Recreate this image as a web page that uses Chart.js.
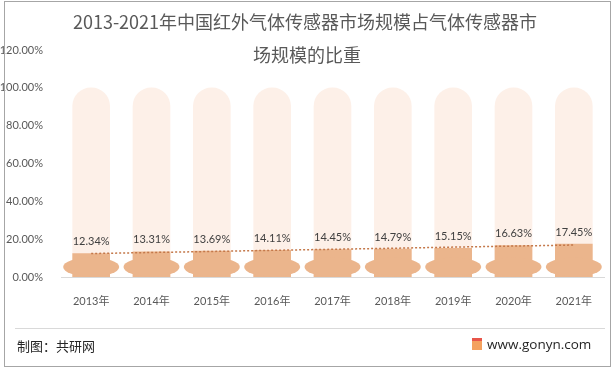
<!DOCTYPE html>
<html>
<head>
<meta charset="utf-8">
<script src="https://cdn.jsdelivr.net/npm/chart.js@4/dist/chart.umd.min.js"></script>
<style>
html,body{margin:0;padding:0;background:#fff;}
#wrap{position:relative;width:615px;height:370px;}
</style>
</head>
<body>
<div id="wrap"><canvas id="c" width="615" height="370"></canvas></div>
<script>
const categories = ['2013年','2014年','2015年','2016年','2017年','2018年','2019年','2020年','2021年'];
const shareValues = [12.34, 13.31, 13.69, 14.11, 14.45, 14.79, 15.15, 16.63, 17.45];
const backgroundValues = [100, 100, 100, 100, 100, 100, 100, 100, 100];
const trendValues = [12.4, 12.95, 13.5, 14.1, 14.65, 15.2, 15.8, 16.35, 16.9];
const yTicks = [0, 20, 40, 60, 80, 100, 120];
const titleLines = ['2013-2021年中国红外气体传感器市场规模占气体传感器市', '场规模的比重'];
const sourceText = '制图：共研网';
const siteText = 'www.gonyn.com';

const FONT = 'Lato, "Noto Sans CJK SC", sans-serif';
const CJK = '"Noto Sans CJK SC", "Noto Sans", sans-serif';
const TAN = '#ebb58c';

const decorPlugin = {
  id: 'decor',
  beforeDraw(chart) {
    const ctx = chart.ctx;
    ctx.save();
    ctx.fillStyle = '#fff';
    ctx.fillRect(0, 0, chart.width, chart.height);
    ctx.restore();
  },
  afterDatasetsDraw(chart) {
    const ctx = chart.ctx;
    const yScale = chart.scales.y;
    const base = yScale.getPixelForValue(0);
    const meta = chart.getDatasetMeta(1);
    ctx.save();
    meta.data.forEach((el) => {
      ctx.beginPath();
      ctx.ellipse(el.x, base - 10, 28, 9.5, 0, 0, Math.PI * 2);
      ctx.fillStyle = TAN;
      ctx.fill();
    });
    ctx.fillStyle = '#404040';
    ctx.font = '11px ' + FONT;
    ctx.textAlign = 'center';
    ctx.textBaseline = 'middle';
    meta.data.forEach((el, i) => {
      ctx.fillText(shareValues[i].toFixed(2) + '%', el.x, el.y - 12);
    });
    ctx.restore();
  },
  afterDraw(chart) {
    const ctx = chart.ctx;
    ctx.save();
    ctx.fillStyle = '#595959';
    ctx.font = '18px ' + CJK;
    ctx.textAlign = 'center';
    ctx.textBaseline = 'middle';
    ctx.fillText(titleLines[0], 305, 22);
    ctx.fillText(titleLines[1], 307, 55);
    ctx.strokeStyle = '#d9d9d9';
    ctx.lineWidth = 1;
    ctx.beginPath();
    ctx.moveTo(15, 328.5);
    ctx.lineTo(605, 328.5);
    ctx.stroke();
    ctx.fillStyle = '#262626';
    ctx.font = '13px ' + CJK;
    ctx.textAlign = 'left';
    ctx.fillText(sourceText, 17, 346);
    ctx.font = '13.5px "Open Sans", sans-serif';
    ctx.textAlign = 'left';
    ctx.fillText(siteText, 487, 345);
    ctx.fillStyle = '#f4a15e';
    ctx.fillRect(472, 341, 10, 9);
    ctx.fillStyle = '#e8554a';
    ctx.fillRect(472, 338, 10, 3);
    ctx.strokeStyle = '#a6a6a6';
    ctx.strokeRect(4.5, 1.5, 606, 365);
    ctx.restore();
  }
};

new Chart(document.getElementById('c'), {
  type: 'bar',
  data: {
    labels: categories,
    datasets: [
      {
        type: 'line',
        data: trendValues,
        borderColor: '#c4784a',
        borderWidth: 1.5,
        borderDash: [2, 2],
        pointRadius: 0,
        fill: false,
        tension: 0,
        order: 0
      },
      {
        data: shareValues,
        backgroundColor: TAN,
        barThickness: 37,
        grouped: false,
        borderRadius: 0,
        order: 1
      },
      {
        data: backgroundValues,
        backgroundColor: '#fdf0e8',
        barThickness: 37,
        grouped: false,
        borderRadius: {topLeft: 18.5, topRight: 18.5, bottomLeft: 0, bottomRight: 0},
        borderSkipped: 'start',
        order: 2
      }
    ]
  },
  options: {
    responsive: false,
    animation: false,
    devicePixelRatio: 1,
    layout: {padding: {left: 0, right: 11, top: 50, bottom: 53}},
    plugins: {legend: {display: false}, tooltip: {enabled: false}, title: {display: false}},
    scales: {
      x: {
        grid: {display: false},
        border: {display: true, color: '#d9d9d9'},
        ticks: {color: '#595959', font: {size: 11, family: FONT}, padding: 10},
        afterFit(scale) { scale.height = 40; }
      },
      y: {
        min: 0,
        max: 120,
        afterBuildTicks(scale) { scale.ticks = yTicks.map(v => ({value: v})); },
        grid: {display: false},
        border: {display: false},
        ticks: {color: '#595959', font: {size: 11, family: FONT}, padding: 10,
          callback: (v) => Number(v).toFixed(2) + '%'},
        afterFit(scale) { scale.width = 61; }
      }
    }
  },
  plugins: [decorPlugin]
});
</script>
</body>
</html>
